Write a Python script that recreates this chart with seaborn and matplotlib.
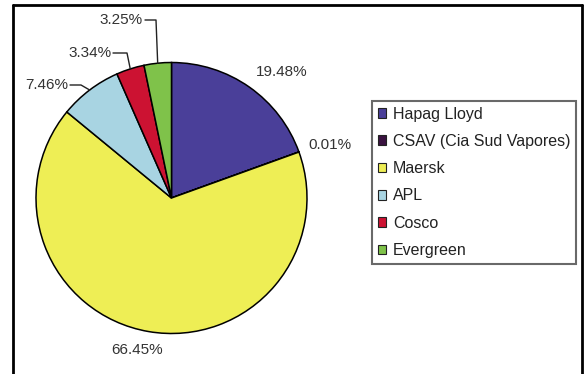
import numpy as np
import matplotlib
matplotlib.use("Agg")
import matplotlib.pyplot as plt
import seaborn as sns
from matplotlib.lines import Line2D

carriers = ["Hapag Lloyd", "CSAV (Cia Sud Vapores)", "Maersk", "APL", "Cosco", "Evergreen"]
shares = [19.48, 0.01, 66.45, 7.46, 3.34, 3.25]
share_labels = ["19.48%", "0.01%", "66.45%", "7.46%", "3.34%", "3.25%"]
colors = ["#4a3f99", "#3a1240", "#eeee55", "#a8d4e2", "#cc1232", "#7fc24a"]

sns.set_theme(style="white")
plt.rcParams['font.family'] = ['Liberation Sans', 'DejaVu Sans']

W, H = 585, 374
fig = plt.figure(figsize=(W / 100, H / 100), dpi=100)
fig.patch.set_facecolor("white")

cx, cy, r = 171.5, 198.0, 135.5
ax = fig.add_axes([(cx - r) / W, (H - cy - r) / H, 2 * r / W, 2 * r / H])
wedges, _ = ax.pie(shares, colors=colors, startangle=90, counterclock=False,
                   radius=1.0, wedgeprops=dict(edgecolor="black", linewidth=1.1))
ax.set_xlim(-1, 1)
ax.set_ylim(-1, 1)
ax.set_aspect("equal")
ax.axis("off")

def px(x, y):
    return ((x - cx) / r, (cy - y) / r)

tcol = "#333333"
fs = 11
# plain labels
plain = {0: (282, 72), 1: (330, 145), 2: (137, 350)}
for i, (x, y) in plain.items():
    ax.text(*px(x, y), share_labels[i], ha="center", va="center", fontsize=fs, color=tcol, clip_on=False)

# labels with leader lines
def mid_point(w):
    a = np.deg2rad((w.theta1 + w.theta2) / 2)
    return np.cos(a), np.sin(a)

leaders = {
    3: dict(text=(47, 85), path=[(70, 85), (81, 85)]),
    4: dict(text=(90, 53), path=[(113, 53), (127, 53)]),
    5: dict(text=(121, 20), path=[(145, 20), (156, 20)]),
}
for i, d in leaders.items():
    ax.text(*px(*d["text"]), share_labels[i], ha="center", va="center", fontsize=fs, color=tcol, clip_on=False)
    pts = [px(*p) for p in d["path"]]
    mx, my = mid_point(wedges[i])
    pts.append((mx, my))
    xs, ys = zip(*pts)
    ax.plot(xs, ys, color="#222222", lw=1.0, clip_on=False)

# legend
handles = [plt.Rectangle((0, 0), 1, 1, facecolor=c, edgecolor="#222222", linewidth=0.8) for c in colors]
leg = fig.legend(handles, carriers, loc="upper left", bbox_to_anchor=(372 / W, 1 - 101 / H),
                 frameon=True, fancybox=False, fontsize=11.5, handlelength=0.55, handleheight=0.55,
                 handletextpad=0.4, labelspacing=0.77, borderpad=0.35, borderaxespad=0.0)
leg.get_frame().set_edgecolor("#444444")
leg.get_frame().set_linewidth(1.5)
for t in leg.get_texts():
    t.set_color("#222222")

# outer frame (open at bottom)
lw = 2.0
fig.add_artist(Line2D([13 / W, 13 / W], [0, 1 - 5 / H], transform=fig.transFigure, color="black", lw=lw))
fig.add_artist(Line2D([13 / W, 582 / W], [1 - 5 / H, 1 - 5 / H], transform=fig.transFigure, color="black", lw=lw))
fig.add_artist(Line2D([582 / W, 582 / W], [0, 1 - 5 / H], transform=fig.transFigure, color="black", lw=lw))

fig.savefig("out.png", dpi=100)
